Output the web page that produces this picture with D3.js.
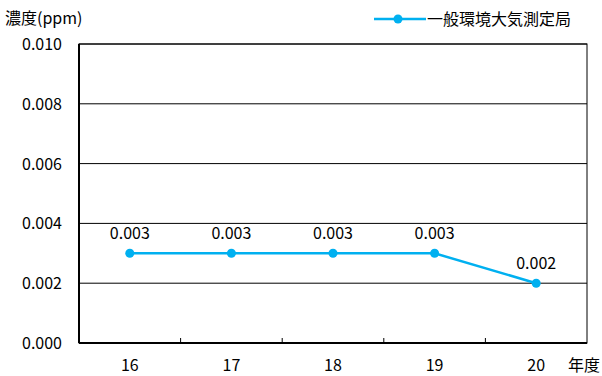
<!DOCTYPE html>
<html><head><meta charset="utf-8">
<script src="https://cdn.jsdelivr.net/npm/d3@7"></script>
<style>body{margin:0;background:#fff}text{font-family:"Noto Sans CJK JP","Noto Sans",sans-serif}</style>
</head><body><svg id="c" width="602" height="376"></svg>
<script>
const categories = ["16","17","18","19","20"];
const values = [0.003,0.003,0.003,0.003,0.002];
const yTicks = [0,0.002,0.004,0.006,0.008,0.010];
const seriesName = "一般環境大気測定局";
const yTitle = "濃度(ppm)";
const xTitle = "年度";

const svg = d3.select("#c");
const L=79,R=587,T=44,B=343;
const x = d3.scaleBand().domain(categories).range([L,R]);
const y = d3.scaleLinear().domain([0,0.010]).range([B,T]);
const col="#00B0F0";
const fs=16;

// grid
svg.selectAll("line.g").data(yTicks.slice(1)).join("line")
 .attr("x1",L).attr("x2",R).attr("y1",d=>y(d)).attr("y2",d=>y(d))
 .attr("stroke","#000").attr("stroke-width",1);
// frame
svg.append("rect").attr("x",L).attr("y",T).attr("width",R-L).attr("height",B-T)
 .attr("fill","none").attr("stroke","#000").attr("stroke-width",1);
svg.append("line").attr("x1",L).attr("x2",L).attr("y1",T).attr("y2",B).attr("stroke","#000").attr("stroke-width",2);
svg.append("line").attr("x1",L).attr("x2",R).attr("y1",B).attr("y2",B).attr("stroke","#000").attr("stroke-width",2);
// x ticks between categories
svg.selectAll("line.t").data(categories.slice(1)).join("line")
 .attr("x1",d=>x(d)).attr("x2",d=>x(d)).attr("y1",B).attr("y2",B-5)
 .attr("stroke","#000");
// y labels
svg.selectAll("text.y").data(yTicks).join("text")
 .attr("x",62).attr("y",d=>y(d)+6).attr("text-anchor","end").attr("font-size",fs).text(d=>d3.format(".3f")(d));
// x labels
svg.selectAll("text.x").data(categories).join("text")
 .attr("x",d=>x(d)+x.bandwidth()/2).attr("y",371).attr("text-anchor","middle").attr("font-size",fs).text(d=>d);
svg.append("text").attr("x",568).attr("y",371).attr("font-size",fs).text(xTitle);
svg.append("text").attr("x",5).attr("y",24).attr("font-size",fs).text(yTitle);
// line
const cx=(d,i)=>x(categories[i])+x.bandwidth()/2;
svg.append("path").datum(values).attr("d",d3.line().x(cx).y(d=>y(d)))
 .attr("fill","none").attr("stroke",col).attr("stroke-width",2.5);
svg.selectAll("circle.p").data(values).join("circle")
 .attr("cx",cx).attr("cy",d=>y(d)).attr("r",4.5).attr("fill",col);
svg.selectAll("text.v").data(values).join("text")
 .attr("x",cx).attr("y",d=>y(d)-14).attr("text-anchor","middle").attr("font-size",fs).text(d=>d3.format(".3f")(d));
// legend
svg.append("line").attr("x1",374).attr("x2",426).attr("y1",19).attr("y2",19).attr("stroke",col).attr("stroke-width",2.5);
svg.append("circle").attr("cx",398).attr("cy",19).attr("r",4.5).attr("fill",col);
svg.append("text").attr("x",427).attr("y",25).attr("font-size",fs).text(seriesName);
</script></body></html>
